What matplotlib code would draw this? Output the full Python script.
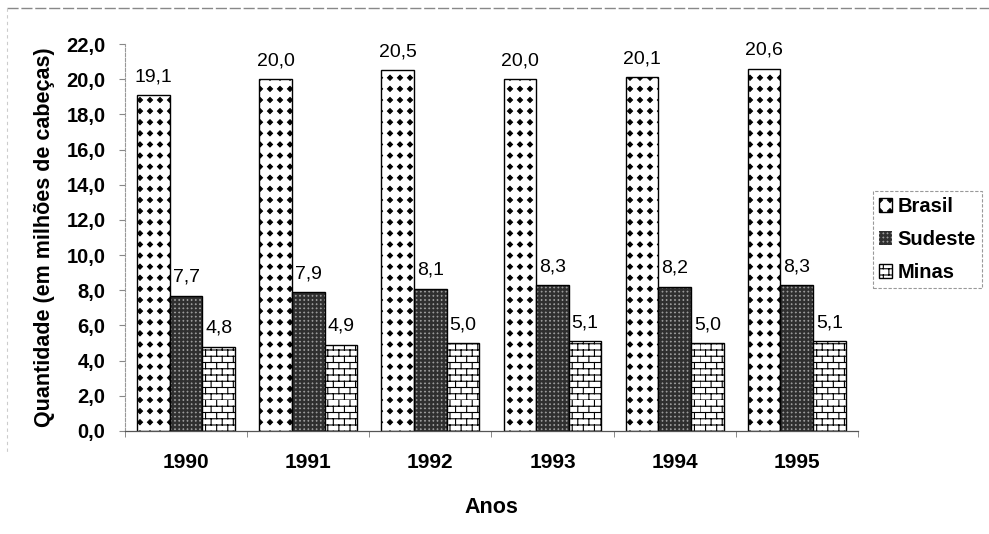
import matplotlib
matplotlib.use("Agg")
import matplotlib.pyplot as plt
import matplotlib.hatch as mhatch
from matplotlib.path import Path
from matplotlib.lines import Line2D
import numpy as np

# dados
anos = ['1990', '1991', '1992', '1993', '1994', '1995']
brasil = [19.1, 20.0, 20.5, 20.0, 20.1, 20.6]
sudeste = [7.7, 7.9, 8.1, 8.3, 8.2, 8.3]
minas = [4.8, 4.9, 5.0, 5.1, 5.0, 5.1]
series = ['Brasil', 'Sudeste', 'Minas']


# padroes de preenchimento (tipo Excel) - losangos, pontos e tijolos
def grid_hatch(char, nx, ny, hw, hh):
    class GridHatch(mhatch.HatchPatternBase):
        def __init__(self, hatch, density):
            k = hatch.count(char)
            self.nx, self.ny = nx * k, ny * k
            self.num_vertices = (self.nx + 1) * (self.ny + 1) * 5 if k else 0

        def set_vertices_and_codes(self, vertices, codes):
            shape = Path.unit_regular_polygon(4)
            sv = shape.vertices * [hw, hh]
            idx = 0
            for i in range(self.nx + 1):
                for j in range(self.ny + 1):
                    vertices[idx:idx + 5] = sv + [i / self.nx, j / self.ny]
                    codes[idx:idx + 5] = shape.codes
                    idx += 5
    return GridHatch


class Bricks(mhatch.HatchPatternBase):
    def __init__(self, hatch, density):
        k = hatch.count('O')
        self.n, self.m = 16 * k, 9 * k
        self.num_vertices = (2 * self.n + 2 * self.n * self.m) if k else 0

    def set_vertices_and_codes(self, vertices, codes):
        n, m = self.n, self.m
        idx = 0
        for i in range(n):
            y = i / n
            vertices[idx] = (0, y)
            vertices[idx + 1] = (1, y)
            codes[idx] = Path.MOVETO
            codes[idx + 1] = Path.LINETO
            idx += 2
            shift = 0.5 * (i % 2)
            for j in range(m):
                x = (j + shift) / m
                vertices[idx] = (x, y)
                vertices[idx + 1] = (x, y + 1.0 / n)
                codes[idx] = Path.MOVETO
                codes[idx + 1] = Path.LINETO
                idx += 2


mhatch._hatch_types[:] = [t for t in mhatch._hatch_types
                          if t not in (mhatch.Stars, mhatch.SmallCircles, mhatch.LargeCircles)]
mhatch._hatch_types += [grid_hatch('*', 10, 9, 0.025, 0.025),
                        grid_hatch('o', 24, 24, 0.004, 0.004),
                        Bricks]

plt.rcParams['font.family'] = ['Liberation Sans', 'DejaVu Sans']
plt.rcParams['hatch.linewidth'] = 0.8

fig = plt.figure(figsize=(9.89, 5.34), dpi=100)
ax = fig.add_axes([0.1264, 0.1929, 0.741, 0.7247])

x = np.arange(len(anos))
w = 0.267

b1 = ax.bar(x - w, brasil, w, color='white', edgecolor='black', hatch='*', linewidth=1.0)
b2 = ax.bar(x, sudeste, w, color='#2f2f2f', edgecolor='#9a9a9a', hatch='o', linewidth=0)
ax.bar(x, sudeste, w, fill=False, edgecolor='black', linewidth=1.0)
b3 = ax.bar(x + w, minas, w, color='white', edgecolor='black', hatch='O', linewidth=1.0)

for bars, vals in ((b1, brasil), (b2, sudeste), (b3, minas)):
    for rect, v in zip(bars, vals):
        ax.annotate(f'{v:.1f}'.replace('.', ','),
                    (rect.get_x() + rect.get_width() / 2, v),
                    xytext=(0, 10), textcoords='offset points',
                    ha='center', va='baseline', fontsize=14)

ax.set_xlim(-0.5, len(anos) - 0.5)
ax.set_ylim(0, 22)
yt = np.arange(0, 23, 2)
ax.set_yticks(yt)
ax.set_yticklabels([f'{v:.1f}'.replace('.', ',') for v in yt],
                   fontsize=14.5, fontweight='bold')
ax.set_xticks(x)
ax.set_xticklabels(anos, fontsize=15, fontweight='bold')
ax.set_xticks(np.arange(-0.5, len(anos)), minor=True)
ax.tick_params(axis='x', which='major', length=0, pad=16)
ax.tick_params(axis='x', which='minor', length=4, color='#777777', direction='out')
ax.tick_params(axis='y', length=4, color='#888888', pad=10)

for s in ('top', 'right'):
    ax.spines[s].set_visible(False)
ax.spines['left'].set_color('#999999')
ax.spines['left'].set_linestyle((0, (3, 1.5)))
ax.spines['left'].set_linewidth(0.8)
ax.spines['bottom'].set_color('#555555')
ax.spines['bottom'].set_linewidth(0.9)

ax.set_ylabel('Quantidade (em milhões de cabeças)', fontsize=15.5, fontweight='bold', labelpad=8)
ax.set_xlabel('Anos', fontsize=15.5, fontweight='bold', labelpad=18)

leg = fig.legend([b1, b2, b3], series, loc='upper left',
                 bbox_to_anchor=(0.8827, 0.6423), prop={'weight': 'bold', 'size': 14.5},
                 handlelength=0.65, handleheight=0.65, handletextpad=0.25,
                 labelspacing=0.7, borderpad=0.3, borderaxespad=0,
                 fancybox=False, framealpha=1)
leg.get_frame().set_edgecolor('#999999')
leg.get_frame().set_linewidth(0.8)
leg.get_frame().set_linestyle((0, (3, 1.5)))

# moldura do grafico
fig.add_artist(Line2D([0.007, 1.0], [0.985, 0.985], color='#888888', lw=1.0,
                      linestyle=(0, (8, 2))))
fig.add_artist(Line2D([0.007, 0.007], [0.985, 0.15], color='#cccccc', lw=0.8,
                      linestyle=(0, (3, 3))))

fig.savefig('out.png', dpi=100)
